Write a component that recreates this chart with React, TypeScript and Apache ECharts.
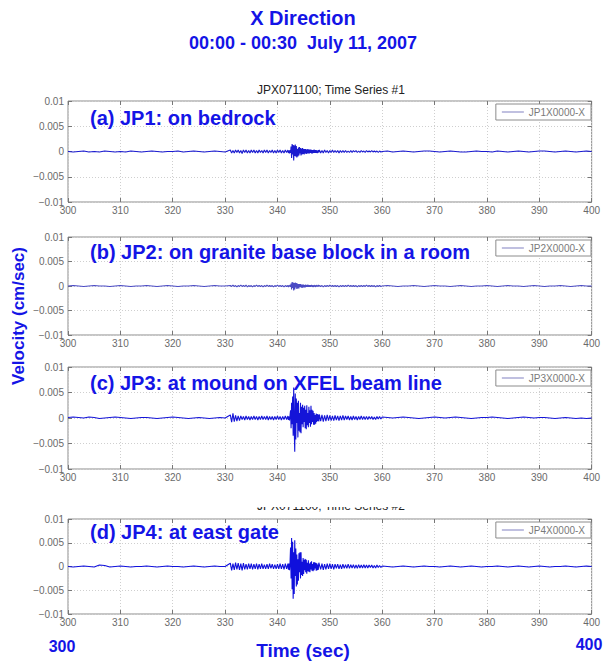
import React, { useEffect, useRef } from "react";
import * as echarts from "echarts";

// ---- time segments (sec): start and sample step of each recorded segment ----
const SEG_START = [300, 331, 342, 348, 360];
const SEG_STEP = [1, 0.25, 0.1, 0.25, 1];
const UNIT = 1e-4; // values below are in units of 1e-4 cm/sec

// ---- JP1: on bedrock ----
const JP1_PRE = [0,-1,0,1,-1,0,-1,1,0,-1,0,-1,1,0,-1,0,1,0,-1,0,0,1,-1,0,1,0,-1,0,1,0,-1];
const JP1_ACTIVE = [3,-3,2,-3,3,-2,3,-3,2,-4,3,-2,3,-3,2,-3,3,-2,3,-3,2,-3,3,-2,2,-3,3,-2,3,-3,2,-2,3,-3,2,-3,3,-2,3,-3,2,-3,3,-2];
const JP1_BURST = [3,-3,2,-4,3,-3,10,-13,15,-6,13,-18,12,-9,14,-10,11,-12,5,-10,8,-8,9,-4,7,-8,6,-6,7,-5,5,-6,5,-4,5,-5,4,-4,5,-4,4,-4,4,-3,4,-4,3,-4,3,-3,4,-3,3,-3,3,-3,2,-3,3,-2];
const JP1_CODA = [3,-3,2,-3,3,-2,2,-3,2,-2,3,-2,2,-2,2,-3,2,-2,2,-2,2,-2,1,-2,2,-2,2,-1,2,-2,1,-2,2,-1,1,-2,2,-1,1,-1,2,-1,1,-1,1,-2,1,-1];
const JP1_POST = [0,1,-1,0,1,0,-1,0,1,1,0,-1,0,1,0,-1,-1,0,1,0,0,-1,1,0,-1,0,1,0,-1,0,1,1,0,-1,0,1,0,-1,0,1,0];

// ---- JP2: on granite base block ----
const JP2_PRE = [0,1,0,-1,0,1,0,0,-1,0,1,0,-1,0,0,1,0,-1,0,1,0,-1,0,0,1,0,-1,0,1,0,0];
const JP2_ACTIVE = [1,-1,2,-1,1,-2,1,-1,2,-1,1,-1,2,-2,1,-1,1,-2,1,-1,2,-1,1,-1,1,-2,1,-1,2,-1,1,-1,1,-2,1,-1,2,-1,1,-1,1,-2,1,-1];
const JP2_BURST = [1,-2,1,-1,2,-2,5,-7,8,-4,7,-9,6,-7,7,-3,6,-6,5,-5,4,-5,4,-2,4,-3,3,-4,3,-3,3,-3,2,-3,3,-2,2,-2,3,-2,2,-2,2,-2,2,-1,2,-2,1,-2,2,-1,1,-2,2,-1,1,-1,2,-1];
const JP2_CODA = [1,-1,1,-2,1,-1,1,-1,2,-1,1,-1,1,-1,1,-2,1,-1,1,-1,1,-1,2,-1,1,-1,1,-1,1,-2,1,-1,1,-1,1,-1,2,-1,1,-1,1,-1,1,-2,1,-1,1,-1];
const JP2_POST = [0,1,0,-1,0,0,1,0,-1,0,1,0,0,-1,0,1,0,-1,0,0,1,0,-1,0,1,0,0,-1,0,1,0,-1,0,0,1,0,-1,0,1,0,0];

// ---- JP3: at mound on XFEL beam line ----
const JP3_PRE = [1,2,1,0,2,1,-1,0,1,2,1,0,-1,0,1,1,0,-1,0,1,2,1,0,-1,0,1,0,-1,0,1,0];
const JP3_ACTIVE = [6,-8,9,-7,5,-6,4,-5,4,-3,3,-4,4,-3,3,-4,3,-3,4,-3,3,-4,3,-3,4,-3,3,-3,4,-4,3,-3,3,-4,3,-3,4,-3,3,-4,3,-3,4,-3];
const JP3_BURST = [4,-4,3,-5,5,15,-20,30,-12,42,-35,60,-20,-66,48,-42,38,-10,30,-38,34,-25,10,-28,30,-30,22,-12,26,-18,20,-8,24,-20,16,-22,25,-14,10,-18,22,-10,15,-17,24,-12,16,-8,14,-13,10,-13,6,-11,9,-8,8,-6,7,-7];
const JP3_CODA = [7,-6,6,-7,5,-6,6,-5,5,-5,4,-5,5,-4,4,-5,4,-4,5,-4,4,-3,4,-4,3,-4,4,-3,3,-4,3,-3,4,-3,3,-3,3,-3,3,-2,3,-3,2,-3,3,-2,3,-2];
const JP3_POST = [2,1,0,1,2,1,0,-1,0,1,2,1,0,1,2,1,0,-1,0,1,1,2,1,0,-1,0,1,2,1,0,1,1,0,-1,0,1,0,-1,0,-1,0];

// ---- JP4: at east gate ----
const JP4_PRE = [0,-1,0,1,0,-1,3,2,-1,0,1,0,-1,0,0,1,0,-1,0,1,0,0,-1,0,1,0,-1,0,1,0,0];
const JP4_ACTIVE = [7,-8,6,-7,8,-6,7,-7,6,-8,7,-6,5,-6,6,-5,6,-6,5,-5,6,-6,5,-5,6,-5,4,-5,5,-5,6,-4,5,-5,4,-5,5,-5,6,-5,5,-6,6,-5];
const JP4_BURST = [6,-7,6,-8,7,40,-25,60,-48,52,-68,30,-58,55,-20,38,-42,25,-38,15,-30,28,-12,30,-25,30,-18,10,-20,18,-16,14,-8,16,-12,14,-15,8,-10,13,-11,6,-12,9,-6,11,-9,5,-10,9,-8,9,-4,8,-9,7,-8,4,-7,8];
const JP4_CODA = [7,-6,6,-7,5,-6,6,-5,6,-5,5,-6,5,-4,5,-5,4,-5,5,-4,4,-4,5,-4,4,-3,4,-4,3,-4,4,-3,3,-3,4,-3,3,-3,3,-2,3,-3,2,-3,3,-2,2,-2];
const JP4_POST = [1,0,-1,0,1,0,-1,0,1,0,0,-1,0,1,0,-1,0,1,0,-1,0,0,1,0,-1,0,1,0,-1,0,1,0,-1,0,0,1,0,-1,0,1,0];

const STATION_NAMES = ["JP1X0000-X", "JP2X0000-X", "JP3X0000-X", "JP4X0000-X"];
const PANEL_LABELS = [
  "(a) JP1: on bedrock",
  "(b) JP2: on granite base block in a room",
  "(c) JP3: at mound on XFEL beam line",
  "(d) JP4: at east gate",
];
const STATION_SEGMENTS = [
  [JP1_PRE, JP1_ACTIVE, JP1_BURST, JP1_CODA, JP1_POST],
  [JP2_PRE, JP2_ACTIVE, JP2_BURST, JP2_CODA, JP2_POST],
  [JP3_PRE, JP3_ACTIVE, JP3_BURST, JP3_CODA, JP3_POST],
  [JP4_PRE, JP4_ACTIVE, JP4_BURST, JP4_CODA, JP4_POST],
];
const X_MIN = 300;
const X_MAX = 400;
const X_STEP = 10;
const Y_MIN = -0.01;
const Y_MAX = 0.01;
const Y_STEP = 0.005;

// ---- layout ----
const GRID_TOPS = [101, 237, 367, 519];
const GRID_HEIGHTS = [101, 98, 102, 95];
const LABEL_OFFSETS = [17, 15, 16, 13];
const GRID_LEFT = 68;
const GRID_RIGHT = 8;
const LINE_COLORS = ["#1a1ad0", "#4a4ac4", "#1414d8", "#1010dc"];
const BLUE = "#1414e6";
const FONT = "Liberation Sans, Arial, sans-serif";

function buildSeries(segs: number[][]): [number, number][] {
  const out: [number, number][] = [];
  segs.forEach((vals, s) => {
    vals.forEach((v, i) => {
      out.push([+(SEG_START[s] + i * SEG_STEP[s]).toFixed(2), v * UNIT]);
    });
  });
  return out;
}

export default function App() {
  const ref = useRef<HTMLDivElement>(null);
  useEffect(() => {
    if (!ref.current) return;
    const chart = echarts.init(ref.current, undefined, { renderer: "svg" });
    const tick = { show: true, inside: true, length: 4, lineStyle: { color: "#777" } };
    const grid = GRID_TOPS.map((top, i) => ({
      left: GRID_LEFT,
      right: GRID_RIGHT,
      top,
      height: GRID_HEIGHTS[i],
      show: true,
      borderColor: "#8c8c8c",
      borderWidth: 1,
      backgroundColor: "#fff",
    }));
    const xAxis: any[] = GRID_TOPS.map((_, i) => ({
      type: "value",
      gridIndex: i,
      position: "bottom",
      min: X_MIN,
      max: X_MAX,
      interval: X_STEP,
      axisLine: { show: false, onZero: false },
      axisTick: tick,
      axisLabel: { fontSize: 10, color: "#6a6a6a", margin: 3, fontFamily: FONT },
      splitLine: { show: true, lineStyle: { color: "#cfcfcf", type: [1, 2] } },
    }));
    GRID_TOPS.forEach((_, i) =>
      xAxis.push({
        type: "value",
        gridIndex: i,
        position: "top",
        min: X_MIN,
        max: X_MAX,
        interval: X_STEP,
        axisLine: { show: false, onZero: false },
        axisTick: tick,
        axisLabel: { show: false },
        splitLine: { show: false },
      })
    );
    const yAxis: any[] = GRID_TOPS.map((_, i) => ({
      type: "value",
      gridIndex: i,
      position: "left",
      min: Y_MIN,
      max: Y_MAX,
      interval: Y_STEP,
      axisLine: { show: false, onZero: false },
      axisTick: tick,
      axisLabel: {
        fontSize: 10,
        color: "#6a6a6a",
        margin: 4,
        fontFamily: FONT,
        formatter: (v: number) => {
          const r = Math.round(v * 1000) / 1000;
          return r === 0 ? "0" : String(r).replace("-", "\u2212");
        },
      },
      splitLine: { show: true, lineStyle: { color: "#cfcfcf", type: [1, 2] } },
    }));
    GRID_TOPS.forEach((_, i) =>
      yAxis.push({
        type: "value",
        gridIndex: i,
        position: "right",
        min: Y_MIN,
        max: Y_MAX,
        interval: Y_STEP,
        axisLine: { show: false, onZero: false },
        axisTick: tick,
        axisLabel: { show: false },
        splitLine: { show: false },
      })
    );
    const series = STATION_SEGMENTS.map((segs, i) => ({
      type: "line",
      name: STATION_NAMES[i],
      xAxisIndex: i,
      yAxisIndex: i,
      data: buildSeries(segs),
      symbol: "none",
      showSymbol: false,
      lineStyle: { width: 1.1, color: LINE_COLORS[i] },
      itemStyle: { color: LINE_COLORS[i] },
    }));
    const legend = GRID_TOPS.map((top, i) => ({
      data: [STATION_NAMES[i]],
      right: 12,
      top: top + 3,
      orient: "horizontal",
      icon: "rect",
      itemWidth: 22,
      itemHeight: 1,
      itemGap: 4,
      padding: [3, 6, 3, 6],
      borderColor: "#8c8c8c",
      borderWidth: 1,
      borderRadius: 0,
      backgroundColor: "#fff",
      itemStyle: { color: "#8080c0" },
      textStyle: { fontSize: 10, color: "#7a7a7a", fontFamily: FONT },
    }));
    const panelTexts = PANEL_LABELS.map((t, i) => ({
      type: "text",
      x: 90,
      y: GRID_TOPS[i] + LABEL_OFFSETS[i],
      z: 100,
      style: {
        text: t,
        fill: BLUE,
        fontSize: 20,
        fontWeight: "bold",
        fontFamily: FONT,
        align: "left",
        verticalAlign: "middle",
        textAlign: "left",
        textVerticalAlign: "middle",
      },
    }));
    const txt = (text: string, x: number, y: number, size: number, extra: any = {}) => ({
      type: "text",
      x,
      y,
      z: 100,
      ...extra,
      style: {
        text,
        fill: BLUE,
        fontSize: size,
        fontWeight: "bold",
        fontFamily: FONT,
        align: "center",
        verticalAlign: "middle",
        textAlign: "center",
        textVerticalAlign: "middle",
      },
    });
    const small = (text: string, x: number, y: number) => ({
      type: "text",
      x,
      y,
      style: {
        text,
        fill: "#222",
        fontSize: 12,
        fontFamily: FONT,
        align: "center",
        verticalAlign: "middle",
        textAlign: "center",
        textVerticalAlign: "middle",
      },
    });
    const graphic = [
      ...panelTexts,
      txt("X Direction", 303, 18, 20),
      txt("00:00 - 00:30  July 11, 2007", 303, 43, 18),
      small("JPX071100; Time Series #1", 331, 90),
      small("JPX071100; Time Series #2", 331, 506),
      {
        type: "rect",
        z: 50,
        shape: { x: 150, y: 490, width: 360, height: 17 },
        style: { fill: "#fff" },
      },
      txt("Velocity (cm/sec)", 18, 316, 17, { rotation: Math.PI / 2 }),
      txt("300", 62, 646, 16),
      txt("Time (sec)", 303, 650, 19),
      txt("400", 589, 644, 16),
    ];
    chart.setOption({
      animation: false,
      backgroundColor: "#fff",
      grid,
      xAxis,
      yAxis,
      series,
      legend,
      graphic,
    } as any);
    return () => chart.dispose();
  }, []);
  return <div ref={ref} style={{ width: 603, height: 664, position: "absolute", left: 0, top: 0 }} />;
}
